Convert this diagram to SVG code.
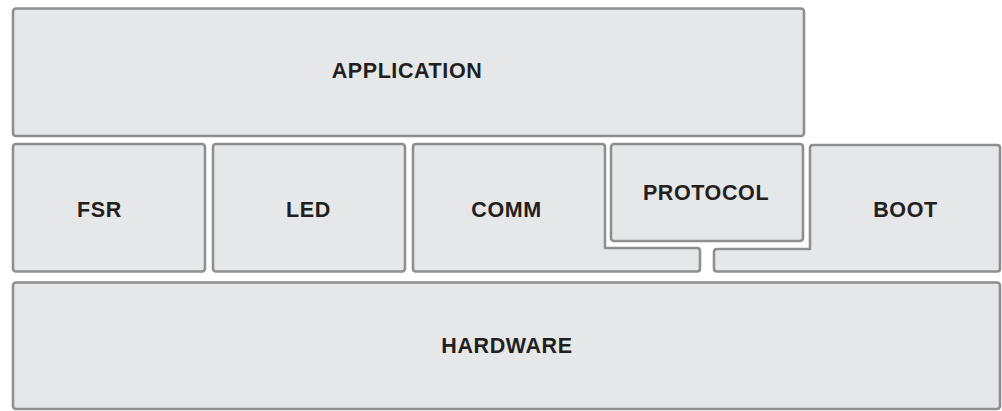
<svg xmlns="http://www.w3.org/2000/svg" width="1002" height="411" viewBox="0 0 1002 411">
  <style>
    .blk { fill: #e6e7e8; stroke: #8f8f91; stroke-width: 2.6; stroke-linejoin: round; }
    .lbl { font-family: "Liberation Sans", Arial, sans-serif; font-weight: bold; font-size: 21.5px; letter-spacing: 0.6px; fill: #231f20; text-anchor: middle; }
  </style>
  <rect width="1002" height="411" fill="#ffffff"/>

  <g id="application">
    <rect class="blk" x="13" y="8.5" width="791" height="127.5" rx="3"/>
    <text class="lbl" x="407" y="78">APPLICATION</text>
  </g>

  <g id="fsr">
    <rect class="blk" x="13" y="144" width="192" height="127.5" rx="3"/>
    <text class="lbl" x="99.5" y="216.5">FSR</text>
  </g>

  <g id="led">
    <rect class="blk" x="213" y="144" width="192" height="127.5" rx="3"/>
    <text class="lbl" x="308.5" y="216.5">LED</text>
  </g>

  <g id="comm">
    <path class="blk" d="M416,144 H602 Q605,144 605,147 V248 H697 Q700,248 700,251 V268.5 Q700,271.5 697,271.5 H416 Q413,271.5 413,268.5 V147 Q413,144 416,144 Z"/>
    <text class="lbl" x="506.5" y="216.5">COMM</text>
  </g>

  <g id="protocol">
    <rect class="blk" x="611" y="144" width="192" height="97" rx="3"/>
    <text class="lbl" x="706" y="200">PROTOCOL</text>
  </g>

  <g id="boot">
    <path class="blk" d="M813,145 H997 Q1000,145 1000,148 V268.5 Q1000,271.5 997,271.5 H717 Q714,271.5 714,268.5 V252 Q714,249 717,249 H810 V148 Q810,145 813,145 Z"/>
    <text class="lbl" x="905.5" y="216.5">BOOT</text>
  </g>

  <g id="hardware">
    <rect class="blk" x="13" y="282.5" width="987" height="126.5" rx="3"/>
    <text class="lbl" x="507" y="353">HARDWARE</text>
  </g>

  <g id="connectors"></g>
</svg>
